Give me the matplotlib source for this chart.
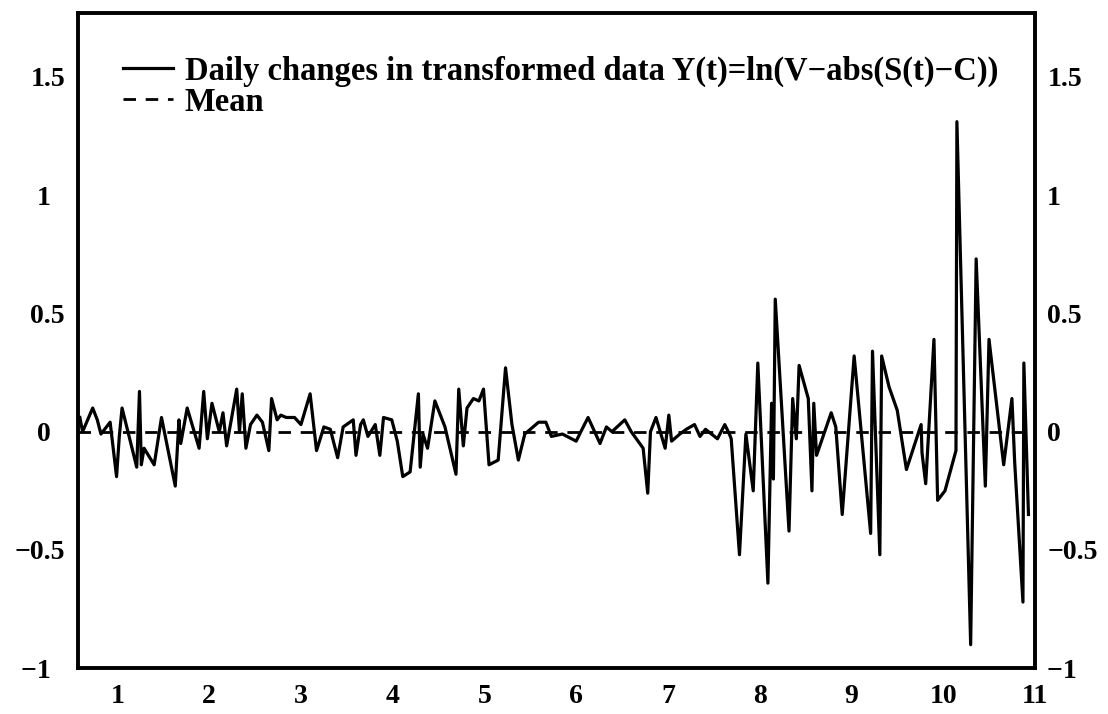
import matplotlib

matplotlib.use("Agg")
import matplotlib.pyplot as plt

plt.rcParams["font.family"] = ["Liberation Serif", "DejaVu Serif"]
plt.rcParams["font.weight"] = "bold"

# positions on the x axis (time units) and daily changes
x_pos = [0.59, 0.62, 0.73, 0.78, 0.82, 0.86, 0.92, 0.99, 1.02, 1.05, 1.21, 1.24, 1.26, 1.29, 1.40, 1.48,
         1.63, 1.67, 1.69, 1.76, 1.89, 1.94,
         1.98, 2.03, 2.11, 2.15, 2.19, 2.30, 2.33, 2.36, 2.40, 2.45, 2.52, 2.58, 2.65, 2.68, 2.74, 2.78,
         2.84, 2.93, 3.00, 3.10, 3.17, 3.25, 3.32,
         3.40, 3.46, 3.57, 3.60, 3.65, 3.68, 3.73, 3.81, 3.86, 3.90, 3.99, 4.05, 4.11, 4.19, 4.28, 4.30,
         4.33, 4.38, 4.46, 4.57, 4.69, 4.72,
         4.77, 4.81, 4.88, 4.94, 4.99, 5.05, 5.15, 5.23, 5.30, 5.37, 5.44, 5.59, 5.67, 5.73, 5.85, 6.00, 6.09,
         6.13, 6.26, 6.33, 6.39, 6.53, 6.60, 6.73, 6.78, 6.81, 6.87, 6.97, 7.01, 7.04, 7.13, 7.20, 7.29,
         7.35, 7.41, 7.54, 7.62, 7.67,
         7.69, 7.78, 7.85, 7.93, 7.98, 8.09, 8.13, 8.15, 8.17, 8.32, 8.36, 8.40, 8.43, 8.53, 8.57, 8.59,
         8.62, 8.78, 8.83, 8.90, 9.03, 9.21, 9.23, 9.31, 9.33, 9.41, 9.50, 9.60,
         9.76, 9.77, 9.81, 9.90, 9.94, 10.02, 10.14, 10.15, 10.30, 10.36, 10.46, 10.50, 10.66, 10.75,
         10.78, 10.87, 10.88, 10.93]
changes = [0.06, 0.00, 0.10, 0.05, -0.01, 0.01, 0.04, -0.19, -0.02, 0.10, -0.15, 0.17, -0.14, -0.07, -0.14, 0.06,
           -0.23, 0.05, -0.05, 0.10, -0.07, 0.17,
           -0.03, 0.12, 0.00, 0.08, -0.06, 0.18, 0.00, 0.16, -0.07, 0.03, 0.07, 0.04, -0.08, 0.14, 0.05, 0.07,
           0.06, 0.06, 0.03, 0.16, -0.08, 0.02, 0.01,
           -0.11, 0.02, 0.05, -0.10, 0.03, 0.05, -0.02, 0.03, -0.10, 0.06, 0.05, -0.04, -0.19, -0.17, 0.16, -0.15,
           -0.01, -0.07, 0.13, 0.02, -0.18, 0.18,
           -0.06, 0.10, 0.14, 0.13, 0.18, -0.14, -0.12, 0.27, 0.03, -0.12, -0.01, 0.04, 0.04, -0.02, -0.01, -0.04, 0.03,
           0.06, -0.05, 0.02, 0.00, 0.05, 0.00, -0.07, -0.26, 0.00, 0.06, -0.07, 0.07, -0.04, -0.01, 0.01, 0.03,
           -0.02, 0.01, -0.03, 0.03, -0.01,
           -0.03, -0.52, -0.01, -0.25, 0.29, -0.64, 0.12, -0.20, 0.56, -0.42, 0.14, -0.03, 0.28, 0.14, -0.25, 0.12,
           -0.10, 0.08, 0.02, -0.35, 0.32, -0.43, 0.34, -0.52, 0.32, 0.19, 0.09, -0.16,
           0.03, -0.09, -0.22, 0.39, -0.29, -0.25, -0.08, 1.31, -0.90, 0.73, -0.23, 0.39, -0.14, 0.14,
           -0.13, -0.72, 0.29, -0.35]
mean_change = 0.0

x_ticks = list(range(1, 12))
y_ticks = [-1, -0.5, 0, 0.5, 1, 1.5]
# figure spaces keep the integers roughly lined up with the decimals
y_labels = ["\u22121\u2007", "\u22120.5", "0\u2007", "0.5", "1\u2007", "1.5"]
line_label = "Daily changes in transformed data Y(t)=ln(V\u2212abs(S(t)\u2212C))"

fig = plt.figure(figsize=(11.08, 7.14), dpi=100)
ax = fig.add_axes([0.070, 0.064, 0.864, 0.918])
ax.plot(x_pos, changes, color="black", lw=2.3, label=line_label)
ax.axhline(mean_change, color="black", lw=2.0, ls=(0, (4.5, 3.5)), label="Mean")

ax.set_xlim(0.565, 10.95)
ax.set_ylim(-1.0, 1.77)
ax.set_xticks(x_ticks)
ax.set_yticks(y_ticks, y_labels)
ax.tick_params(length=0, labelsize=20)
ax.tick_params(axis="x", pad=11)
ax.tick_params(axis="y", pad=9, labelright=True)
for spine in ax.spines.values():
    spine.set_linewidth(2.8)

ax.legend(loc="upper left", bbox_to_anchor=(0.047, 0.935), frameon=False, fontsize=23.5,
          handlelength=1.55, handletextpad=0.35, labelspacing=0.0, borderaxespad=0, borderpad=0)

fig.savefig("out.png", dpi=100)
